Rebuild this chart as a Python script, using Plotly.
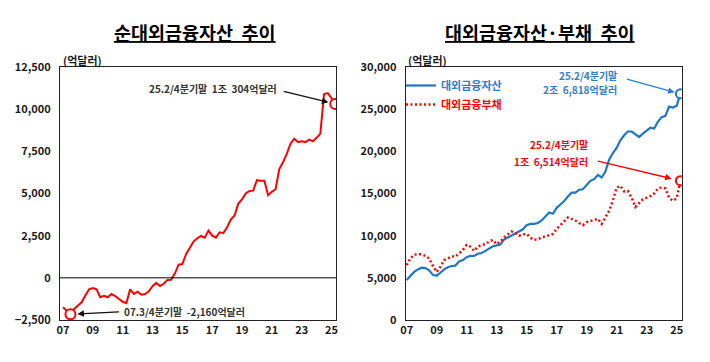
import plotly.graph_objects as go

# ---------------- data (억달러, quarterly 2007Q1 .. 2025Q2) ----------------
net_assets = [
    -1750, -1980, -2160, -1850, -1620, -1450, -1050, -680,   # 2007-2008
    -600, -680, -1150, -1060, -1150, -960, -1080, -1250,     # 2009-2010
    -1420, -1500, -680, -950, -820, -1000, -960, -800,       # 2011-2012
    -500, -300, -480, -350, -130, -120, 250, 780,            # 2013-2014
    820, 1400, 1800, 2150, 2350, 2480, 2380, 2800,           # 2015-2016
    2500, 2380, 2700, 2650, 3000, 3450, 3700, 4400,          # 2017-2018
    4650, 5000, 5150, 5170, 5790, 5750, 5760, 4900,          # 2019-2020
    5100, 5250, 6450, 6850, 7350, 7950, 8250, 8050,          # 2021-2022
    8100, 8050, 8200, 8100, 8300, 8550, 10900, 10950,        # 2023-2024
    10650, 10304,                                            # 2025
]
ext_assets = [
    4750, 5200, 5700, 6000, 6200, 6150, 5900, 5350,
    5250, 5600, 6000, 6250, 6400, 6450, 6950, 7100,
    7450, 7600, 7600, 7850, 7950, 8200, 8450, 8750,
    8850, 8950, 9550, 9800, 10000, 10200, 10450, 10750,
    11250, 11400, 11400, 11500, 11800, 12300, 12750, 12600,
    13300, 13700, 14100, 14650, 15100, 15100, 15450, 15500,
    16000, 16500, 16700, 17200, 16900, 17600, 19000, 19800,
    20400, 21300, 21900, 22350, 22350, 22000, 21700, 22100,
    22500, 22800, 22700, 23500, 24050, 24200, 25300, 25200,
    25400, 26818,
]
ext_liab = [
    6500, 7300, 7750, 7800, 7800, 7600, 7300, 6400,
    5700, 6300, 7100, 7300, 7550, 7500, 7900, 8300,
    8900, 8700, 8200, 8700, 8900, 9000, 9300, 9500,
    9000, 9300, 9800, 10100, 10500, 10300, 10000, 10150,
    10200, 9750, 9500, 9550, 9800, 9900, 10050, 10200,
    10800, 11200, 11700, 12150, 12000, 11800, 11500, 11250,
    11600, 11750, 11900, 12000, 11400, 12200, 12950, 14200,
    15700, 15900, 15250, 15300, 14500, 13400, 13800, 14300,
    14500, 14700, 15000, 15600, 15700, 15600, 14500, 14150,
    14400, 16514,
]
year_labels = ["07", "09", "11", "13", "15", "17", "19", "21", "23", "25"]
quarters = list(range(len(net_assets)))
tick_positions = [8 * k for k in range(len(year_labels))]

left_yticks = [-2500, 0, 2500, 5000, 7500, 10000, 12500]
right_yticks = [0, 5000, 10000, 15000, 20000, 25000, 30000]

# ---------------- helpers ----------------
# page body has an 8px margin; size the figure to fit inside the 710x362 window
OFF = 8
W, H = 710 - 2 * OFF, 362 - 2 * OFF
def px(x):
    return (x - OFF) / W
def py(y):
    return 1 - (y - OFF) / H

KFONT = "Noto Sans CJK KR, Noto Sans, sans-serif"
RED = "#ff0000"
BLUE = "#1f77c4"
BLUE_TXT = "#2f7dd1"

fig = go.Figure()

fig.add_trace(go.Scatter(x=quarters, y=net_assets, mode="lines",
                         line=dict(color=RED, width=2), xaxis="x", yaxis="y",
                         showlegend=False))
imin = net_assets.index(min(net_assets))
fig.add_trace(go.Scatter(x=[imin, quarters[-1]], y=[net_assets[imin], net_assets[-1]],
                         mode="markers", xaxis="x", yaxis="y", showlegend=False,
                         marker=dict(symbol="circle", size=10, color="white",
                                     line=dict(color=RED, width=2))))

fig.add_trace(go.Scatter(x=quarters, y=ext_assets, mode="lines",
                         name="<span style='color:%s'>대외금융자산</span>" % BLUE_TXT,
                         line=dict(color=BLUE, width=2.2), xaxis="x2", yaxis="y2"))
fig.add_trace(go.Scatter(x=quarters, y=ext_liab, mode="lines",
                         name="<span style='color:%s'>대외금융부채</span>" % RED,
                         line=dict(color=RED, width=2.5, dash="2px,2.5px"),
                         xaxis="x2", yaxis="y2"))
fig.add_trace(go.Scatter(x=[quarters[-1]], y=[ext_assets[-1]], mode="markers",
                         xaxis="x2", yaxis="y2", showlegend=False,
                         marker=dict(size=9, color="white", line=dict(color=BLUE, width=2))))
fig.add_trace(go.Scatter(x=[quarters[-1]], y=[ext_liab[-1]], mode="markers",
                         xaxis="x2", yaxis="y2", showlegend=False,
                         marker=dict(size=9, color="white", line=dict(color=RED, width=2))))

tickfont = dict(family=KFONT, size=11, color="#1a1a1a", weight="bold")

axis_common = dict(showgrid=False, zeroline=False, showline=True, mirror=True,
                   linecolor="#222222", linewidth=1, ticks="", tickfont=tickfont,
                   fixedrange=True)

fig.update_layout(
    width=W, height=H,
    margin=dict(l=0, r=0, t=0, b=0, autoexpand=False),
    paper_bgcolor="white", plot_bgcolor="white",
    xaxis=dict(domain=[px(60), px(336)], range=[-0.8, 73.2],
               tickvals=tick_positions, ticktext=year_labels, anchor="y", **axis_common),
    yaxis=dict(domain=[py(320), py(67)], range=[-2500, 12500], tickvals=left_yticks,
               tickformat=",", anchor="x", ticklabelstandoff=6, **axis_common),
    xaxis2=dict(domain=[px(405.7), px(681.7)], range=[-0.25, 73.35],
                tickvals=tick_positions, ticktext=year_labels, anchor="y2", **axis_common),
    yaxis2=dict(domain=[py(320), py(67)], range=[0, 30000], tickvals=right_yticks,
                tickformat=",", anchor="x2", ticklabelstandoff=6, **axis_common),
    legend=dict(x=px(401), y=py(71), xanchor="left", yanchor="top",
                bgcolor="rgba(0,0,0,0)", font=dict(family=KFONT, size=11, weight="bold"),
                tracegroupgap=0, itemwidth=30),
    showlegend=True,
)

# zero line on left chart
fig.add_hline(y=0, line=dict(color="#000000", width=1), xref="x", yref="y")

ann = []
title_font = dict(family=KFONT, size=18.5, color="#000000", weight="bold")
ann.append(dict(text="<u>순대외금융자산  추이</u>", x=px(195), y=py(32), xref="paper", yref="paper",
                showarrow=False, font=title_font, xanchor="center", yanchor="middle"))
ann.append(dict(text="<u>대외금융자산·부채  추이</u>", x=px(540), y=py(32), xref="paper", yref="paper",
                showarrow=False, font=title_font, xanchor="center", yanchor="middle"))
unit_font = dict(family=KFONT, size=11, color="#1a1a1a", weight="bold")
ann.append(dict(text="(억달러)", x=px(61), y=py(60), xref="paper", yref="paper",
                showarrow=False, font=unit_font, xanchor="left", yanchor="middle"))
ann.append(dict(text="(억달러)", x=px(406), y=py(60), xref="paper", yref="paper",
                showarrow=False, font=unit_font, xanchor="left", yanchor="middle"))

afont = dict(family=KFONT, size=10, color="#333333", weight="bold")
# left chart callouts
ann.append(dict(text="25.2/4분기말  1조  304억달러", x=px(279), y=py(88), xref="paper", yref="paper",
                showarrow=False, font=afont, xanchor="right", yanchor="middle"))
ann.append(dict(text="", x=quarters[-1], y=net_assets[-1], xref="x", yref="y",
                showarrow=True, ax=-53, ay=-13, arrowhead=2, arrowsize=1, arrowwidth=1.3,
                arrowcolor="#111111", standoff=7))
ann.append(dict(text="07.3/4분기말  -2,160억달러", x=px(122), y=py(311.5), xref="paper", yref="paper",
                showarrow=False, font=afont, xanchor="left", yanchor="middle"))
ann.append(dict(text="", x=imin, y=net_assets[imin], xref="x", yref="y",
                showarrow=True, ax=50, ay=-2.5, arrowhead=2, arrowsize=1, arrowwidth=1.3,
                arrowcolor="#111111", standoff=7))

# right chart callouts
bfont = dict(family=KFONT, size=10, color=BLUE_TXT, weight="bold")
rfont = dict(family=KFONT, size=10, color=RED, weight="bold")
ann.append(dict(text="25.2/4분기말", x=px(618.5), y=py(75), xref="paper", yref="paper",
                showarrow=False, font=bfont, xanchor="right", yanchor="middle"))
ann.append(dict(text="2조  6,818억달러", x=px(618.5), y=py(90), xref="paper", yref="paper",
                showarrow=False, font=bfont, xanchor="right", yanchor="middle"))
ann.append(dict(text="", x=quarters[-1], y=ext_assets[-1], xref="x2", yref="y2",
                showarrow=True, ax=-55, ay=-15, arrowhead=2, arrowsize=1, arrowwidth=1.3,
                arrowcolor=BLUE_TXT, standoff=6))
ann.append(dict(text="25.2/4분기말", x=px(590), y=py(144), xref="paper", yref="paper",
                showarrow=False, font=rfont, xanchor="right", yanchor="middle"))
ann.append(dict(text="1조  6,514억달러", x=px(590), y=py(161.5), xref="paper", yref="paper",
                showarrow=False, font=rfont, xanchor="right", yanchor="middle"))
ann.append(dict(text="", x=quarters[-1], y=ext_liab[-1], xref="x2", yref="y2",
                showarrow=True, ax=-84, ay=-20, arrowhead=2, arrowsize=1, arrowwidth=1.3,
                arrowcolor=RED, standoff=9))

fig.update_layout(annotations=ann)

fig.write_html("out.html")
